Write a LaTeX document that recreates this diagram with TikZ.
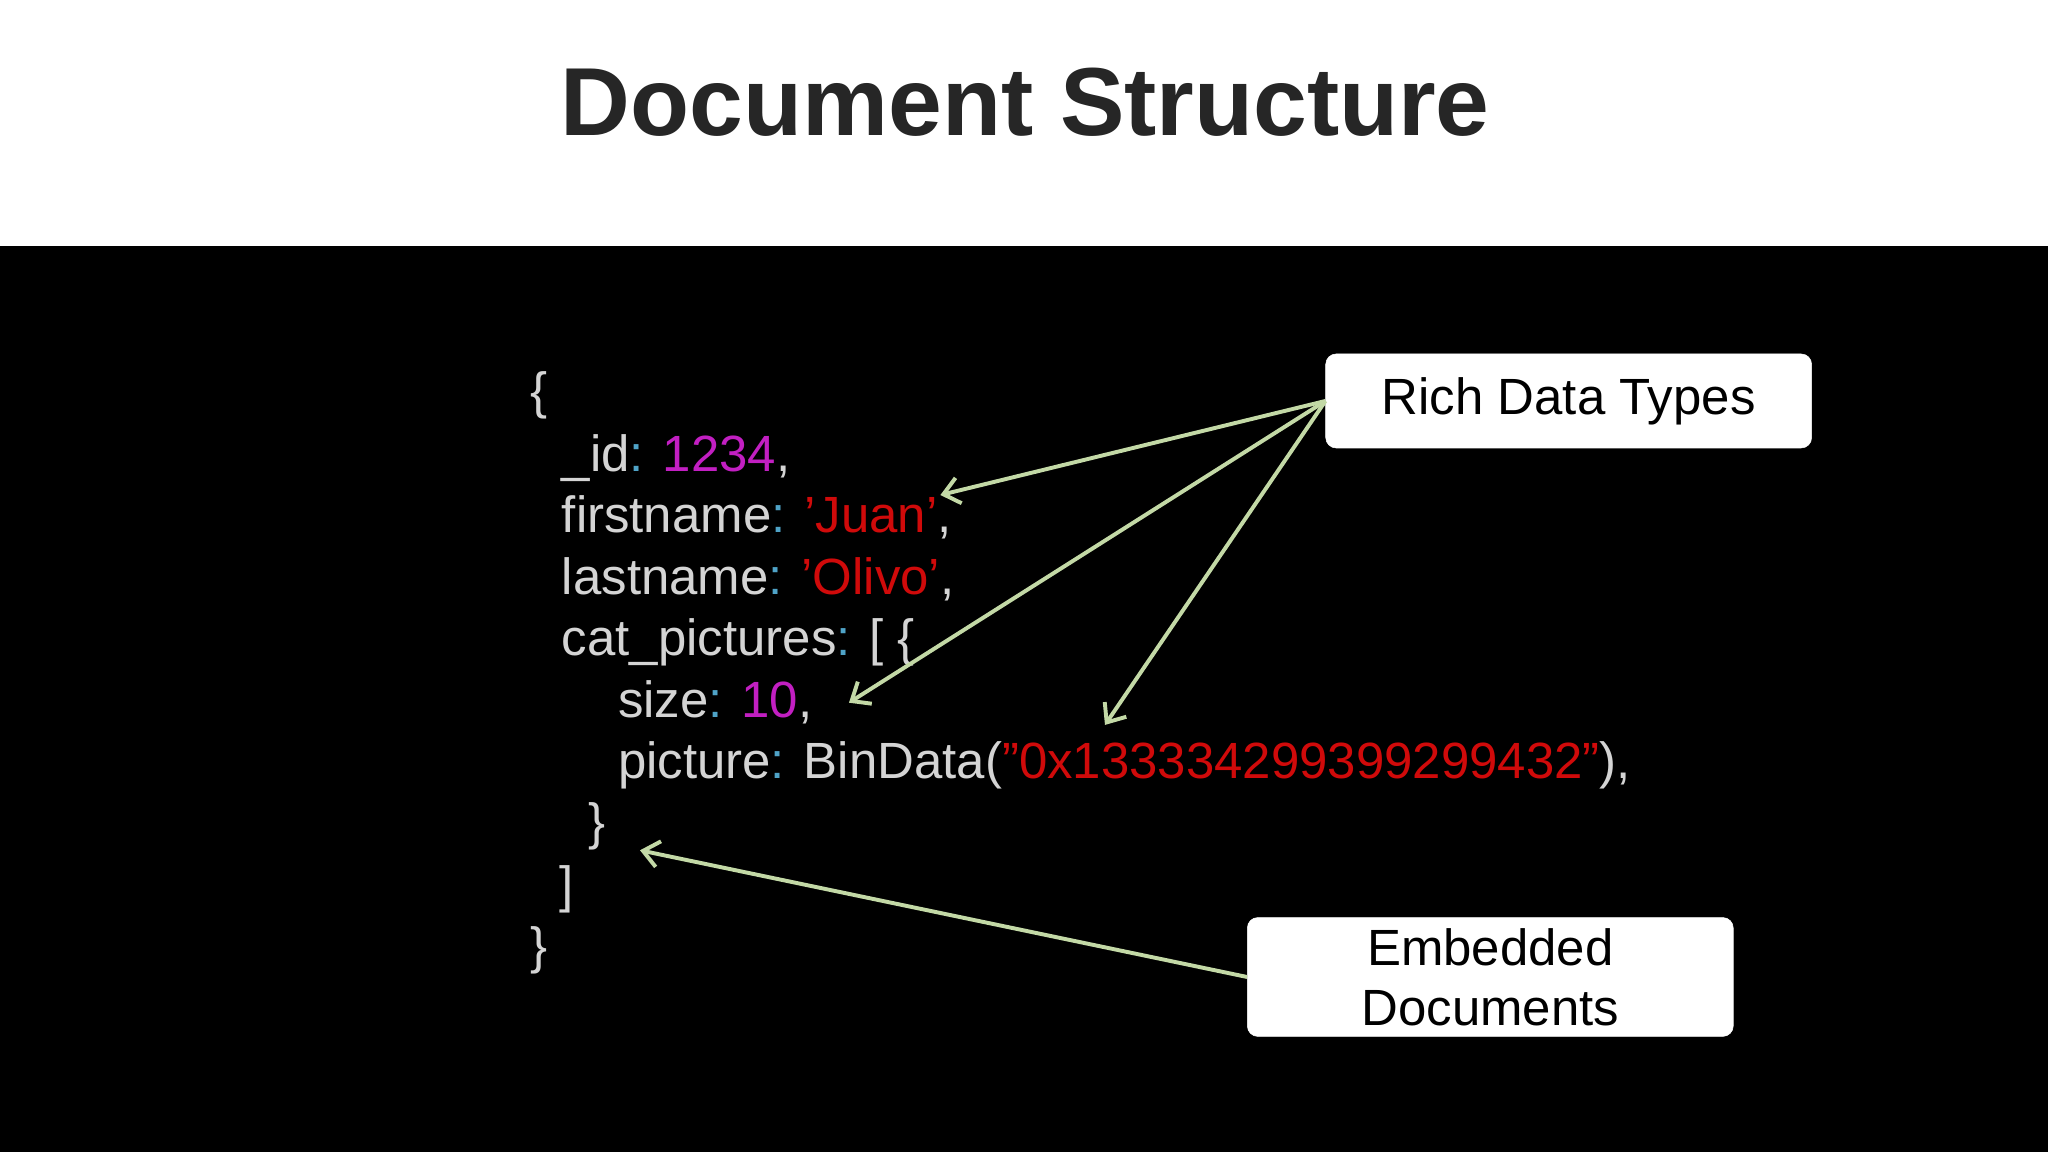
\documentclass[tikz,border=0pt]{standalone}
\usepackage{fontspec}
\setmainfont{Liberation Sans}
\usetikzlibrary{arrows.meta}
\definecolor{codegray}{HTML}{D4D4D4}
\definecolor{colc}{HTML}{4FA3C7}
\definecolor{numc}{HTML}{C21FC2}
\definecolor{strc}{HTML}{D00A0A}
\definecolor{arr}{HTML}{C3D9A6}
\definecolor{titlec}{HTML}{262626}
\newcommand{\cc}{\textcolor{colc}{:}}
\newcommand{\nm}[1]{\textcolor{numc}{#1}}
\newcommand{\st}[1]{\textcolor{strc}{#1}}
\begin{document}
\begin{tikzpicture}[x=1pt,y=-1pt,
  code/.style={anchor=base west,inner sep=0pt,text=codegray,font=\fontsize{39}{39}\selectfont},
  callout/.style={draw=white,fill=white,rounded corners=8pt,text=black,align=center,font=\fontsize{39}{46}\selectfont},
  pointer/.style={draw=arr,line width=3pt,-{Straight Barb[length=12pt,width=20pt,line width=3pt]}}]
\useasboundingbox (0,0) rectangle (1568,882);
\fill[white] (0,0) rectangle (1568,188);
\fill[black] (0,188) rectangle (1568,882);
\node[text=titlec,font=\fontsize{74}{74}\selectfont\bfseries] (title) at (785,78) {Document Structure};
\node[code] (l1) at (406,313) {\{};
\node[code] (l2) at (430,361) {\_id\cc{} \nm{1234},};
\node[code] (l3) at (430,408) {firstname\cc{} \st{'Juan'},};
\node[code] (l4) at (430,455) {lastname\cc{} \st{'Olivo'},};
\node[code] (l5) at (430,502) {cat\_pictures\cc{} [ \{};
\node[code] (l6) at (473,549) {size\cc{} \nm{10},};
\node[code] (l7) at (473,596) {picture\cc{} BinData(\st{"0x133334299399299432"}),};
\node[code] (l8) at (450,643) {\}};
\node[code] (l9) at (428,691) {]};
\node[code] (l10) at (406,738) {\}};
\node[callout,minimum width=372pt,minimum height=72pt] (rich) at (1201,307) {Rich Data Types};
\node[callout,minimum width=372pt,minimum height=91pt] (emb) at (1141,748) {Embedded\\Documents};
\coordinate (t1) at (720,379);
\coordinate (t2) at (650,538);
\coordinate (t3) at (846,555);
\coordinate (t4) at (490,651);
\draw[pointer] (rich.west) -- (t1);
\draw[pointer] (rich.west) -- (t2);
\draw[pointer] (rich.west) -- (t3);
\draw[pointer] (emb.west) -- (t4);
\end{tikzpicture}
\end{document}
